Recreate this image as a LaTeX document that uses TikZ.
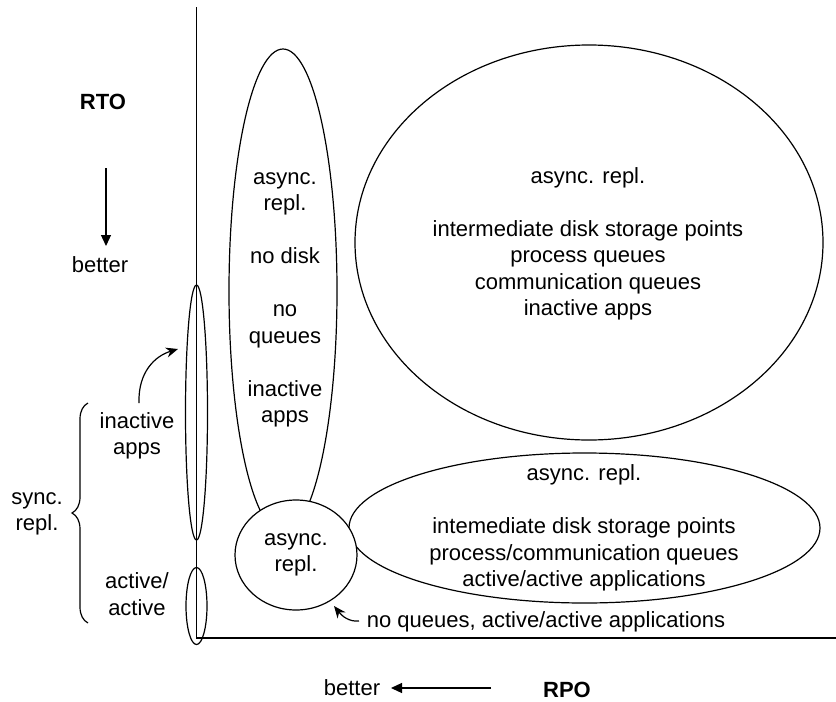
\documentclass[tikz,border=0pt]{standalone}
\usepackage{fontspec}
\setmainfont{Liberation Sans}
\usetikzlibrary{arrows.meta,decorations.pathreplacing,shapes.geometric}
\begin{document}
\begin{tikzpicture}[x=1pt,y=-1pt,
  every node/.style={font=\fontsize{22}{26.5}\selectfont, align=center, inner sep=0pt},
  shp/.style={ellipse, draw, line width=1.2pt, inner sep=0pt, outer sep=0pt},
  ln/.style={line width=1.2pt},
  tri/.style={-{Triangle[length=11pt,width=10pt]}, line width=1.2pt},
  stl/.style={-{Stealth[length=12pt,width=10pt]}, line width=1.2pt},
  bfont/.style={font=\fontsize{22}{26.5}\selectfont\bfseries}]
\useasboundingbox (0,0) rectangle (836,702);

% axes
\coordinate (ytop) at (196.5,7);
\coordinate (O) at (196.5,638);
\coordinate (xend) at (836,638);
\draw[ln] (ytop) -- (O) -- (xend);

% RTO label and arrow
\node[bfont] (rto) at (103,102) {RTO};
\coordinate (rtoS) at (106,168);
\coordinate (rtoE) at (106,246);
\draw[tri] (rtoS) -- (rtoE);
\node (betterV) at (100,265) {better};

% RPO label and arrow
\node[bfont] (rpo) at (567,690) {RPO};
\node (betterH) at (352,688) {better};
\coordinate (rpoS) at (491,688);
\coordinate (rpoE) at (391,688);
\draw[tri] (rpoS) -- (rpoE);

% ellipses
\node[shp, minimum width=108pt, minimum height=484pt] (tall) at (283,291) {};
\node[shp, minimum width=468pt, minimum height=395pt] (big) at (589,242.5) {};
\node[shp, minimum width=471pt, minimum height=150pt] (low) at (584.5,528) {};
\node[shp, fill=white, minimum width=122pt, minimum height=110pt] (circ) at (296,555) {};
\node[shp, minimum width=22pt, minimum height=255pt] (thin) at (196.5,412.5) {};
\node[shp, minimum width=21pt, minimum height=77pt] (aa) at (196.5,606) {};

% texts in shapes
\node (tallT) at (285,300) {async.\\repl.\\[26.5pt]no disk\\[26.5pt]no\\queues\\[26.5pt]inactive\\apps};
\node (bigT) at (588,244) {async. repl.\\[26.5pt]intermediate disk storage points\\process queues\\communication queues\\inactive apps};
\node (lowT) at (584,528) {async. repl.\\[26.5pt]intemediate disk storage points\\process/communication queues\\active/active applications};
\node (circT) at (296,555) {async.\\repl.};

% left labels
\node (inact) at (137,436) {inactive\\apps};
\node (actact) at (137,594) {active/\\active};
\node (sync) at (37,514) {sync.\\repl.};
\coordinate (brB) at (88,623);
\coordinate (brT) at (88,403);
\draw[ln, decorate, decoration={brace, amplitude=16pt}] (brB) -- (brT);

% curved arrows
\coordinate (inS) at (139,403);
\coordinate (inE) at (178,349);
\draw[stl] (inS) .. controls (138,372) and (155,356) .. (inE);

\node (nq) at (546,622) {no queues, active/active applications};
\coordinate (nqS) at (359,621);
\coordinate (nqE) at (334,606);
\draw[stl] (nqS) .. controls (349,622) and (342,616) .. (nqE);
\end{tikzpicture}
\end{document}
